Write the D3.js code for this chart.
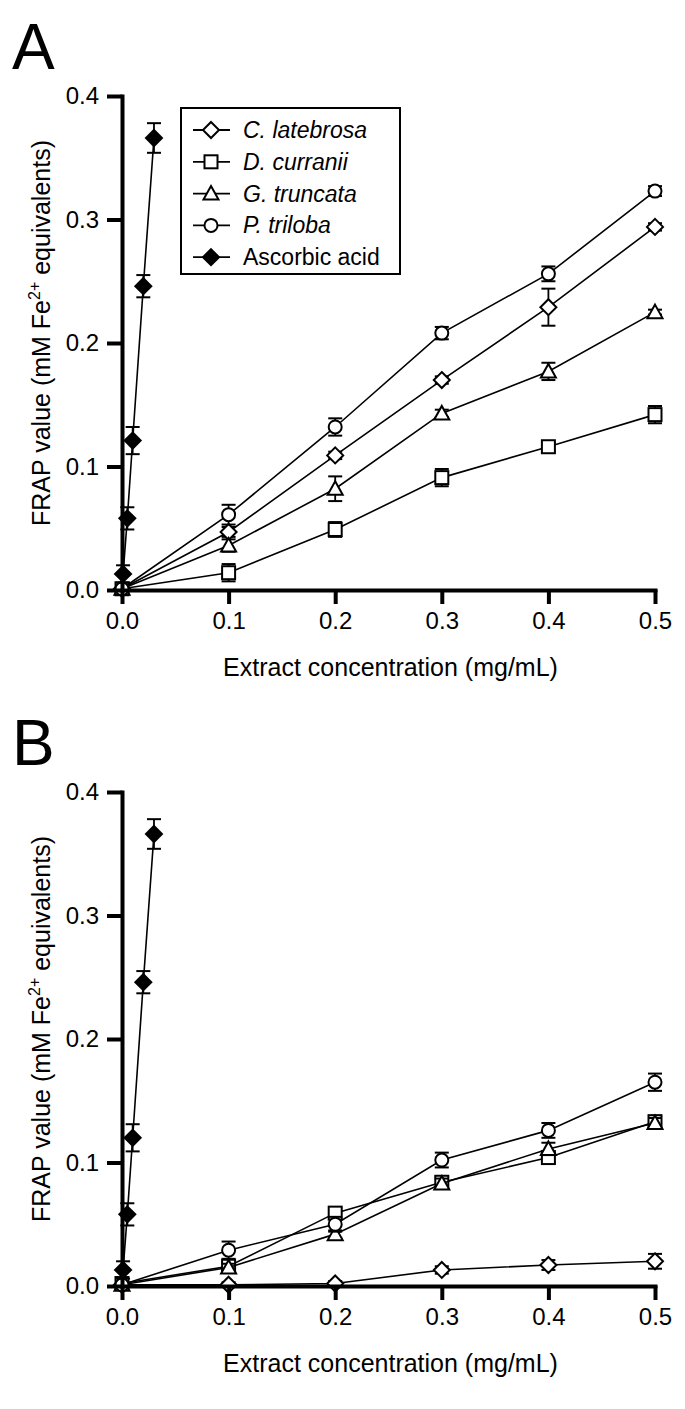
<!DOCTYPE html>
<html><head><meta charset="utf-8">
<script src="https://cdnjs.cloudflare.com/ajax/libs/d3/7.8.5/d3.min.js"></script>
<style>
body{margin:0;background:#fff}
svg{display:block}
text{font-family:"Liberation Sans",Arial,sans-serif;fill:#000}
</style>
</head><body>
<svg id="c" width="685" height="1409"></svg>
<script>
// ---------- data ----------
const xConc = [0, 0.1, 0.2, 0.3, 0.4, 0.5];
const ascX  = [0.001, 0.005, 0.01, 0.02, 0.03];
const seriesNames = ["C. latebrosa", "D. curranii", "G. truncata", "P. triloba", "Ascorbic acid"];
const xTicks = [0, 0.1, 0.2, 0.3, 0.4, 0.5];
const yTicks = [0, 0.1, 0.2, 0.3, 0.4];
const panelLabels = ["A", "B"];

// Panel A
const aCl  = [0.001, 0.047, 0.109, 0.170, 0.229, 0.294];
const aClE = [0.001, 0.004, 0.003, 0.003, 0.015, 0.003];
const aDc  = [0.001, 0.014, 0.049, 0.091, 0.116, 0.142];
const aDcE = [0.001, 0.007, 0.006, 0.007, 0.003, 0.007];
const aGt  = [0.001, 0.036, 0.082, 0.143, 0.177, 0.225];
const aGtE = [0.001, 0.005, 0.010, 0.003, 0.007, 0.002];
const aPt  = [0.001, 0.061, 0.132, 0.208, 0.256, 0.323];
const aPtE = [0.001, 0.008, 0.007, 0.005, 0.006, 0.004];
const aAsc  = [0.013, 0.058, 0.121, 0.246, 0.366];
const aAscE = [0.007, 0.009, 0.011, 0.009, 0.012];

// Panel B
const bCl  = [0.001, 0.001, 0.002, 0.013, 0.017, 0.020];
const bClE = [0.001, 0.002, 0.002, 0.003, 0.004, 0.006];
const bDc  = [0.002, 0.016, 0.059, 0.084, 0.104, 0.133];
const bDcE = [0.001, 0.003, 0.004, 0.004, 0.004, 0.005];
const bGt  = [0.001, 0.015, 0.042, 0.083, 0.111, 0.132];
const bGtE = [0.001, 0.003, 0.003, 0.004, 0.005, 0.004];
const bPt  = [0.001, 0.029, 0.050, 0.102, 0.126, 0.165];
const bPtE = [0.001, 0.007, 0.006, 0.006, 0.006, 0.007];
const bAsc  = [0.013, 0.058, 0.120, 0.246, 0.366];
const bAscE = [0.007, 0.009, 0.011, 0.009, 0.012];

// ---------- drawing ----------
const svg = d3.select("#c");
const L = 122, R = 655;
const shapes = ["diamond", "square", "triangle", "circle", "diamondFilled"];

function drawMarker(g, shape, cx, cy) {
  const sw = 2;
  if (shape === "circle") {
    g.append("circle").attr("cx", cx).attr("cy", cy).attr("r", 6.5)
      .attr("fill", "#fff").attr("stroke", "#000").attr("stroke-width", sw);
  } else if (shape === "square") {
    g.append("rect").attr("x", cx - 6.5).attr("y", cy - 6.5).attr("width", 13).attr("height", 13)
      .attr("fill", "#fff").attr("stroke", "#000").attr("stroke-width", sw);
  } else if (shape === "triangle") {
    const s = 7.5;
    g.append("path").attr("d", `M${cx},${cy - s}L${cx + s},${cy + s * 0.8}L${cx - s},${cy + s * 0.8}Z`)
      .attr("fill", "#fff").attr("stroke", "#000").attr("stroke-width", sw);
  } else {
    const s = 8;
    g.append("path").attr("d", `M${cx},${cy - s}L${cx + s},${cy}L${cx},${cy + s}L${cx - s},${cy}Z`)
      .attr("fill", shape === "diamondFilled" ? "#000" : "#fff")
      .attr("stroke", "#000").attr("stroke-width", sw);
  }
}

function panel(top, label, series, showLegend) {
  const bottom = top + 494;
  const x = d3.scaleLinear().domain([0, 0.5]).range([L, R]);
  const y = d3.scaleLinear().domain([0, 0.4]).range([bottom, top]);
  const g = svg.append("g");

  g.append("text").attr("x", 12).attr("y", top - 27).attr("font-size", 64).text(label);

  series.forEach((s, i) => {
    const pts = s.xs.map((xv, j) => ({x: xv, y: s.ys[j], e: s.es[j]}));
    const sg = g.append("g");
    sg.append("path").datum(pts)
      .attr("d", d3.line().x(d => x(d.x)).y(d => y(d.y)))
      .attr("fill", "none").attr("stroke", "#000").attr("stroke-width", 1.6);
    pts.forEach(p => {
      const cx = x(p.x), y1 = y(p.y + p.e), y2 = y(Math.max(0, p.y - p.e));
      sg.append("line").attr("x1", cx).attr("x2", cx).attr("y1", y1).attr("y2", y2)
        .attr("stroke", "#000").attr("stroke-width", 1.8);
      [y1, y2].forEach(yy => sg.append("line").attr("x1", cx - 7).attr("x2", cx + 7)
        .attr("y1", yy).attr("y2", yy).attr("stroke", "#000").attr("stroke-width", 2));
    });
    pts.forEach(p => drawMarker(sg, shapes[i], x(p.x), y(p.y)));
  });

  const xa = g.append("g").attr("transform", `translate(0,${bottom})`)
    .call(d3.axisBottom(x).tickValues(xTicks).tickFormat(d3.format(".1f")).tickSize(14).tickSizeOuter(0).tickPadding(8));
  const ya = g.append("g").attr("transform", `translate(${L},0)`)
    .call(d3.axisLeft(y).tickValues(yTicks).tickFormat(d3.format(".1f")).tickSize(15).tickSizeOuter(0).tickPadding(8));
  [xa, ya].forEach(a => {
    a.select(".domain").attr("stroke-width", 4).attr("stroke-linecap", "square");
    a.selectAll(".tick line").attr("stroke-width", 4);
    a.selectAll(".tick text").attr("font-size", 24).attr("font-family", "Liberation Sans, Arial, sans-serif");
  });

  g.append("text").attr("x", (L + R) / 2 + 2).attr("y", bottom + 86)
    .attr("text-anchor", "middle").attr("font-size", 25).text("Extract concentration (mg/mL)");
  const yl = g.append("text").attr("transform", `translate(50,${(top + bottom) / 2 - 10}) rotate(-90)`)
    .attr("text-anchor", "middle").attr("font-size", 25);
  yl.append("tspan").text("FRAP value (mM Fe");
  yl.append("tspan").attr("font-size", 16).attr("dy", -10).text("2+");
  yl.append("tspan").attr("dy", 10).text(" equivalents)");

  if (showLegend) {
    const lg = g.append("g");
    lg.append("rect").attr("x", 181).attr("y", 108).attr("width", 219).attr("height", 166)
      .attr("fill", "#fff").attr("stroke", "#000").attr("stroke-width", 2);
    seriesNames.forEach((n, i) => {
      const yy = 130 + i * 31.8;
      lg.append("line").attr("x1", 193).attr("x2", 230).attr("y1", yy).attr("y2", yy)
        .attr("stroke", "#000").attr("stroke-width", 1.8);
      drawMarker(lg, shapes[i], 211, yy);
      lg.append("text").attr("x", 243).attr("y", yy + 8).attr("font-size", 23)
        .attr("font-style", i < 4 ? "italic" : "normal").text(n);
    });
  }
}

panel(96, panelLabels[0], [
  {xs: xConc, ys: aCl, es: aClE},
  {xs: xConc, ys: aDc, es: aDcE},
  {xs: xConc, ys: aGt, es: aGtE},
  {xs: xConc, ys: aPt, es: aPtE},
  {xs: ascX, ys: aAsc, es: aAscE}
], true);

panel(792, panelLabels[1], [
  {xs: xConc, ys: bCl, es: bClE},
  {xs: xConc, ys: bDc, es: bDcE},
  {xs: xConc, ys: bGt, es: bGtE},
  {xs: xConc, ys: bPt, es: bPtE},
  {xs: ascX, ys: bAsc, es: bAscE}
], false);
</script>
</body></html>
